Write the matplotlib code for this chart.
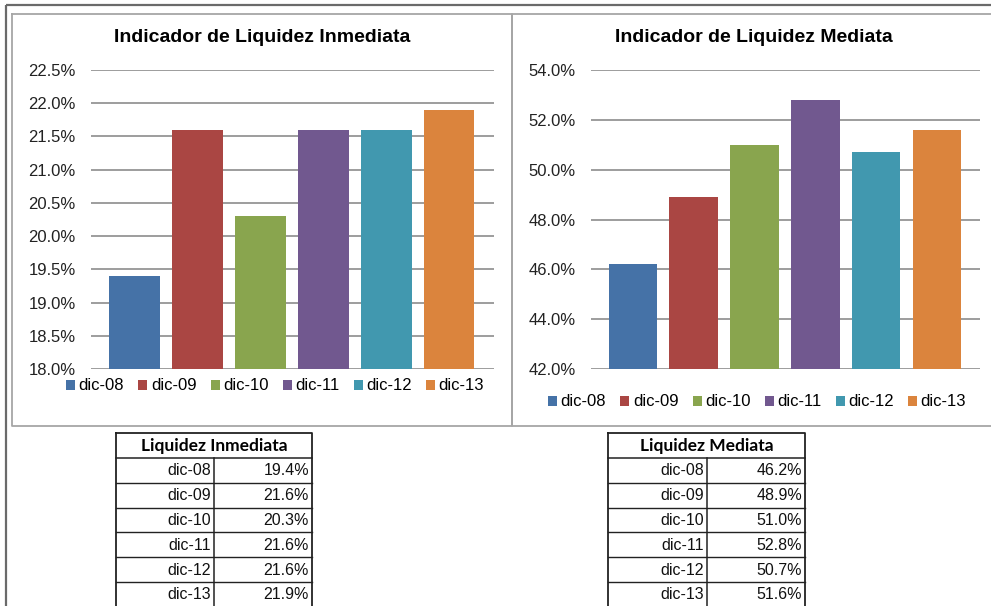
import matplotlib
matplotlib.use("Agg")
import matplotlib.pyplot as plt
from matplotlib.patches import Patch

plt.rcParams['font.family'] = ['Liberation Sans', 'DejaVu Sans']

categories = ["dic-08", "dic-09", "dic-10", "dic-11", "dic-12", "dic-13"]
inmediata = [19.4, 21.6, 20.3, 21.6, 21.6, 21.9]
mediata = [46.2, 48.9, 51.0, 52.8, 50.7, 51.6]
colors = ["#4572A7", "#AA4643", "#89A54E", "#71588F", "#4198AF", "#DB843D"]
title_inm = "Indicador de Liquidez Inmediata"
title_med = "Indicador de Liquidez Mediata"
table_inm = "Liquidez Inmediata"
table_med = "Liquidez Mediata"

W, H = 991, 606
fig = plt.figure(figsize=(W / 100, H / 100), dpi=100)

# overlay axes in pixel coordinates (origin top-left)
ov = fig.add_axes([0, 0, 1, 1], zorder=0)
ov.set_xlim(0, W)
ov.set_ylim(H, 0)
ov.axis("off")

# outer frame lines
ov.plot([6, W], [5, 5], color="#6a6a6a", lw=1.6, solid_capstyle="butt")
ov.plot([6, 6], [5, H], color="#6a6a6a", lw=1.6, solid_capstyle="butt")
# chart boxes
ov.plot([12, 512, 512, 12, 12], [14, 14, 426, 426, 14], color="#a6a6a6", lw=1.3)
ov.plot([W + 5, 512, 512, W + 5], [14, 14, 426, 426], color="#a6a6a6", lw=1.3)


def px_axes(x0, x1, y0, y1):
    return fig.add_axes([x0 / W, 1 - y1 / H, (x1 - x0) / W, (y1 - y0) / H], zorder=2)


def draw_chart(ax, values, ymin, ymax, step, title, title_x, leg_x, leg_y):
    x = list(range(len(categories)))
    ax.bar(x, values, width=0.8, color=colors, zorder=3)
    ax.set_xlim(-0.69, 5.71)
    ax.set_ylim(ymin, ymax)
    ticks = []
    t = ymin
    while t <= ymax + 1e-9:
        ticks.append(t)
        t += step
    ax.set_yticks(ticks)
    ax.set_yticklabels([f"{v:.1f}%" for v in ticks], fontsize=12, color="#222222")
    ax.set_xticks([])
    for v in ticks:
        ax.axhline(v, color="#8c8c8c", lw=1.2, zorder=1)
    for s in ax.spines.values():
        s.set_visible(False)
    ax.tick_params(axis="y", length=0, pad=11)
    ax.patch.set_alpha(0)
    fig.text(title_x / W, 1 - 37 / H, title, ha="center", va="center",
             fontsize=14, fontweight="bold", color="#000000")
    handles = [Patch(facecolor=c, edgecolor="none") for c in colors]
    ax.legend(handles, categories, loc="center", ncol=6, frameon=False,
              bbox_to_anchor=(leg_x / W, 1 - leg_y / H), bbox_transform=fig.transFigure,
              fontsize=12, handlelength=0.55, handleheight=0.55, handletextpad=0.2,
              columnspacing=0.85, borderaxespad=0, borderpad=0)


ax1 = px_axes(91, 494, 70, 369)
draw_chart(ax1, inmediata, 18.0, 22.5, 0.5, title_inm, 262, 275, 386)
ax2 = px_axes(591, 980, 70, 369)
draw_chart(ax2, mediata, 42.0, 54.0, 2.0, title_med, 754, 757, 402)


def draw_table(x0, xd, x1, header, values):
    top = 433
    hb = 458
    rh = 24.8
    lc = "#222222"
    bottom = hb + rh * len(values)
    ov.plot([x0, x1, x1, x0, x0], [top, top, bottom, bottom, top], color=lc, lw=1.3)
    ov.plot([x0, x1], [hb, hb], color=lc, lw=1.1)
    ov.plot([xd, xd], [hb, bottom], color=lc, lw=1.1)
    ov.text((x0 + x1) / 2, (top + hb) / 2 + 1, header, ha="center", va="center",
            fontsize=12.5, fontweight="bold", family=["Lato", "DejaVu Sans"], color="#000000")
    for i, (c, v) in enumerate(zip(categories, values)):
        yt = hb + rh * i
        if i > 0:
            ov.plot([x0, x1], [yt, yt], color=lc, lw=1.0)
        yc = yt + rh / 2 + 0.5
        ov.text(xd - 3, yc, c, ha="right", va="center", fontsize=11.5, color="#111111")
        ov.text(x1 - 3, yc, f"{v:.1f}%", ha="right", va="center", fontsize=11.5, color="#111111")


draw_table(116, 214, 312, table_inm, inmediata)
draw_table(608, 707, 805, table_med, mediata)

fig.savefig("out.png", dpi=100)
